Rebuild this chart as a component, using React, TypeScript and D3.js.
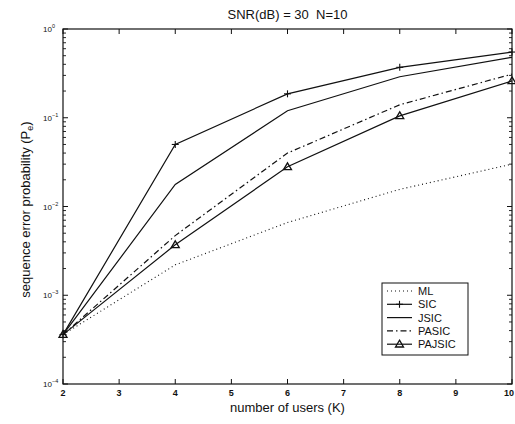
import React from "react";
import * as d3 from "d3";

const users = [2, 4, 6, 8, 10];
const mlValues = [3.6e-4, 2.2e-3, 6.6e-3, 1.56e-2, 3.0e-2];
const sicValues = [3.6e-4, 5.0e-2, 0.186, 0.37, 0.55];
const jsicValues = [3.6e-4, 1.77e-2, 0.12, 0.29, 0.48];
const pasicValues = [3.6e-4, 4.7e-3, 4.0e-2, 0.14, 0.31];
const pajsicValues = [3.6e-4, 3.7e-3, 2.8e-2, 0.105, 0.26];
const xTicks = [2, 3, 4, 5, 6, 7, 8, 9, 10];
const yExponents = [0, -1, -2, -3, -4];
const legendLabels = ["ML", "SIC", "JSIC", "PASIC", "PAJSIC"];

const W = 515, H = 424;
const L = 63, R = 512, T = 29, B = 384;
const FONT = "'Liberation Sans', Arial, Helvetica, sans-serif";

type Series = { name: string; values: number[]; dash: string; marker: "none" | "plus" | "tri" };

const series: Series[] = [
  { name: legendLabels[0], values: mlValues, dash: "1,3", marker: "none" },
  { name: legendLabels[1], values: sicValues, dash: "", marker: "plus" },
  { name: legendLabels[2], values: jsicValues, dash: "", marker: "none" },
  { name: legendLabels[3], values: pasicValues, dash: "6,3,1.5,3", marker: "none" },
  { name: legendLabels[4], values: pajsicValues, dash: "", marker: "tri" },
];

function Marker({ kind, cx, cy }: { kind: string; cx: number; cy: number }) {
  if (kind === "plus") {
    return (
      <g stroke="#111" strokeWidth={1.1}>
        <line x1={cx - 3.5} x2={cx + 3.5} y1={cy} y2={cy} />
        <line x1={cx} x2={cx} y1={cy - 3.5} y2={cy + 3.5} />
      </g>
    );
  }
  if (kind === "tri") {
    const s = 4;
    return (
      <path
        d={`M${cx},${cy - s}L${cx + s},${cy + s * 0.7}L${cx - s},${cy + s * 0.7}Z`}
        fill="none"
        stroke="#111"
        strokeWidth={1.3}
      />
    );
  }
  return null;
}

export default function App() {
  const x = d3.scaleLinear().domain([2, 10]).range([L, R]);
  const y = d3.scaleLog().domain([1e-4, 1]).range([B, T]);
  const line = d3
    .line<[number, number]>()
    .x((d) => x(d[0]))
    .y((d) => y(d[1]));

  const minorTicks: number[] = [];
  for (let e = -4; e < 0; e++) {
    for (let m = 2; m <= 9; m++) minorTicks.push(m * Math.pow(10, e));
  }

  const legX = 382, legY = 283, legW = 86, legH = 72;
  const rowY = (i: number) => 291 + i * 13.3;

  return (
    <svg width={W} height={H} style={{ position: "absolute", left: 0, top: 0, background: "#fff" }}>
      <rect x={0} y={0} width={W} height={H} fill="#fff" />
      {/* title */}
      <text
        x={(L + R) / 2}
        y={19}
        textAnchor="middle"
        fontFamily={FONT}
        fontSize={13}
        fill="#111"
        style={{ whiteSpace: "pre" }}
      >
        {"SNR(dB) = 30  N=10"}
      </text>
      {/* frame */}
      <rect x={L} y={T} width={R - L} height={B - T} fill="none" stroke="#111" strokeWidth={1.2} />
      {/* x ticks */}
      {xTicks.map((t) => (
        <g key={"xt" + t}>
          <line x1={x(t)} x2={x(t)} y1={B} y2={B - 5} stroke="#111" strokeWidth={1} />
          <line x1={x(t)} x2={x(t)} y1={T} y2={T + 5} stroke="#111" strokeWidth={1} />
          <text
            x={Math.min(x(t), W - 6)}
            y={B + 12}
            textAnchor="middle"
            fontFamily={FONT}
            fontSize={9}
            fontWeight="bold"
            fill="#111"
          >
            {t}
          </text>
        </g>
      ))}
      {/* y ticks */}
      {yExponents.map((e) => {
        const yy = y(Math.pow(10, e));
        return (
          <g key={"yt" + e}>
            <line x1={L} x2={L + 5} y1={yy} y2={yy} stroke="#111" strokeWidth={1} />
            <line x1={R} x2={R - 5} y1={yy} y2={yy} stroke="#111" strokeWidth={1} />
            <text x={L - 11} y={yy + 3} textAnchor="end" fontFamily={FONT} fontSize={8} fill="#111">
              10
            </text>
            <text x={L - 11} y={yy - 1} textAnchor="start" fontFamily={FONT} fontSize={5.5} fill="#111">
              {e === 0 ? "0" : "\u2212" + Math.abs(e)}
            </text>
          </g>
        );
      })}
      {minorTicks.map((v, i) => (
        <g key={"mt" + i}>
          <line x1={L} x2={L + 3} y1={y(v)} y2={y(v)} stroke="#111" strokeWidth={0.9} />
          <line x1={R} x2={R - 3} y1={y(v)} y2={y(v)} stroke="#111" strokeWidth={0.9} />
        </g>
      ))}
      {/* axis labels */}
      <text x={(L + R) / 2} y={412} textAnchor="middle" fontFamily={FONT} fontSize={13} fill="#111">
        number of users (K)
      </text>
      <text
        transform={`translate(30, ${(T + B) / 2 + 3}) rotate(-90)`}
        textAnchor="middle"
        fontFamily={FONT}
        fontSize={13}
        fill="#111"
      >
        sequence error probability (P
        <tspan fontSize={9} dy={3}>e</tspan>
        <tspan dy={-3}>)</tspan>
      </text>
      {/* series */}
      {series.map((s) => {
        const pts = users.map((u, i) => [u, s.values[i]] as [number, number]);
        return (
          <g key={s.name}>
            <path
              d={line(pts) || ""}
              fill="none"
              stroke="#111"
              strokeWidth={s.dash === "1,3" ? 1.1 : 1.2}
              strokeDasharray={s.dash || undefined}
            />
            {pts.map((p, i) => (
              <Marker key={i} kind={s.marker} cx={x(p[0])} cy={y(p[1])} />
            ))}
          </g>
        );
      })}
      {/* legend */}
      <rect x={legX} y={legY} width={legW} height={legH} fill="#fff" stroke="#111" strokeWidth={1} />
      {series.map((s, i) => (
        <g key={"lg" + s.name}>
          <line
            x1={387}
            x2={412}
            y1={rowY(i)}
            y2={rowY(i)}
            stroke="#111"
            strokeWidth={1.2}
            strokeDasharray={s.dash || undefined}
          />
          <Marker kind={s.marker} cx={399.5} cy={rowY(i)} />
          <text x={418} y={rowY(i) + 4} fontFamily={FONT} fontSize={11} fill="#111">
            {s.name}
          </text>
        </g>
      ))}
    </svg>
  );
}
